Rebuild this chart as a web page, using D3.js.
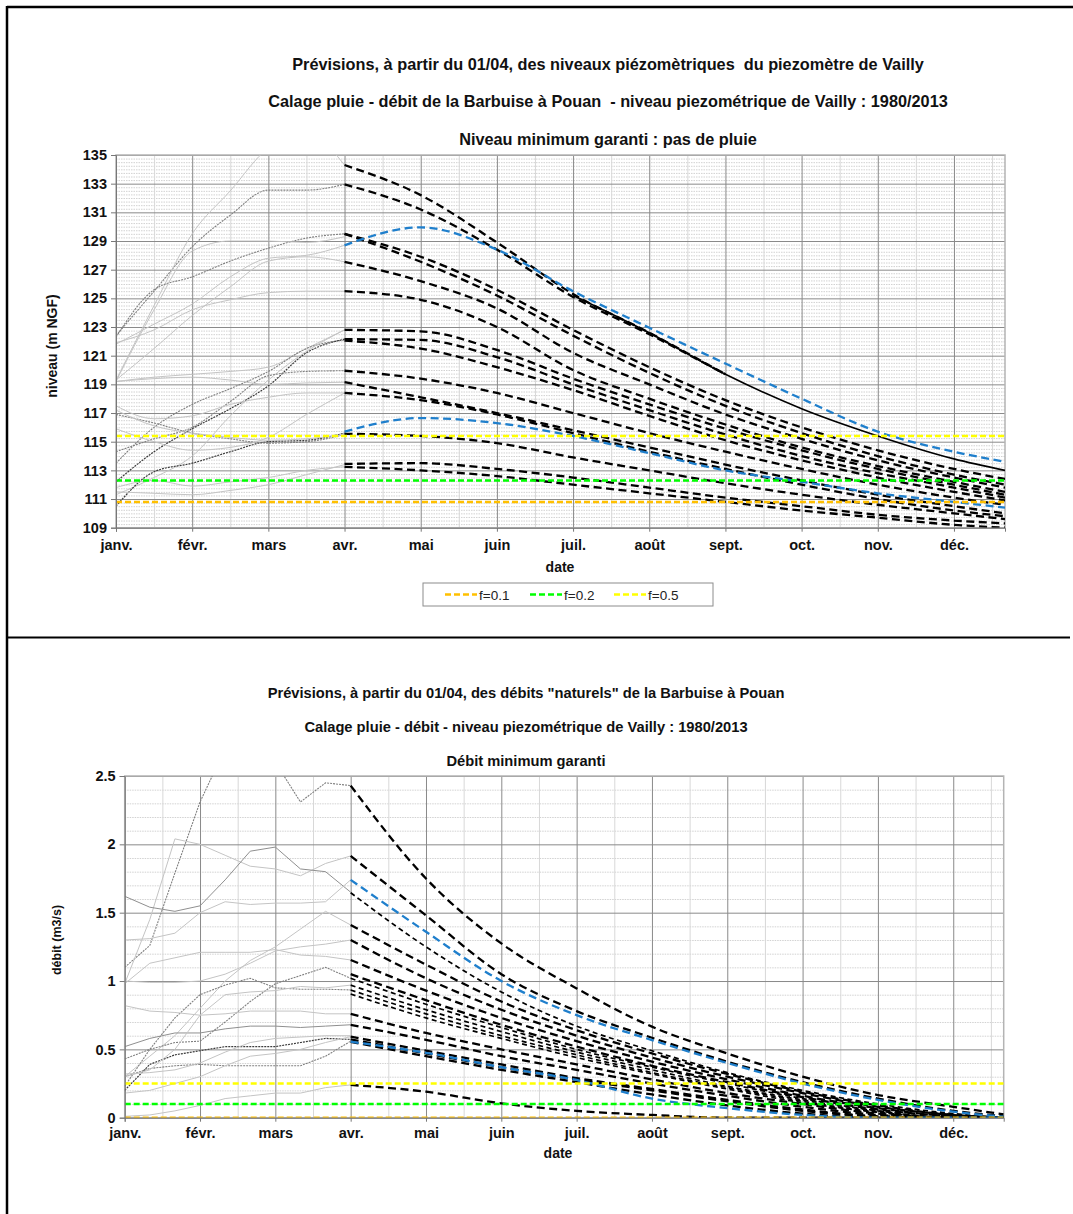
<!DOCTYPE html>
<html>
<head>
<meta charset="utf-8">
<script src="https://cdn.jsdelivr.net/npm/d3@7"></script>
<style>
  body { margin: 0; background: #fff; }
  svg { display: block; font-family: "Liberation Sans", Arial, sans-serif; }
  .title { font-size: 15px; font-weight: bold; fill: #111; white-space: pre; }
  .axis-label { font-size: 14px; font-weight: bold; fill: #111; }
  .tick text { font-size: 14.5px; font-weight: bold; fill: #111; }
  .legend-text { font-size: 13.5px; fill: #222; }
</style>
</head>
<body>
<svg id="page" width="1073" height="1214"></svg>
<script>
// ---------- data ----------
const months = ['janv.', 'févr.', 'mars', 'avr.', 'mai', 'juin', 'juil.', 'août', 'sept.', 'oct.', 'nov.', 'déc.'];

// niveau piezometrique (m NGF), x = mois depuis janvier
const niveauHistX = [0, 0.5, 1, 1.5, 2, 2.5, 3];
const niveauHist = [
  [122.4, 125.5, 128.6, 130.8, 132.55, 132.55, 132.95],
  [119.3, 124.5, 129.5, 132.5, 135.5, 136.5, 134.3],
  [122.3, 125.6, 126.5, 127.6, 128.5, 129.2, 129.5],
  [119.2, 124.2, 128.3, 129.0, 129.0, 128.9, 129.3],
  [121.8, 123.2, 124.6, 126.5, 127.8, 128.0, 128.7],
  [119.3, 121.5, 123.8, 125.8, 127.6, 127.9, 127.55],
  [121.9, 122.8, 124.2, 124.9, 125.4, 125.5, 125.5],
  [119.2, 119.5, 119.7, 119.9, 120.2, 121.5, 122.8],
  [113.5, 116.0, 117.6, 118.7, 119.9, 121.5, 122.1],
  [111.3, 112.5, 114.0, 116.8, 119.3, 121.3, 122.8],
  [112.2, 114.3, 115.9, 117.3, 118.9, 121.2, 122.15],
  [114.3, 115.2, 116.0, 117.8, 119.6, 119.9, 119.95],
  [119.2, 119.4, 119.5, 119.3, 119.0, 119.1, 119.15],
  [117.5, 116.6, 116.8, 117.6, 118.1, 118.4, 118.4],
  [110.5, 112.9, 113.5, 114.3, 115.0, 115.1, 115.6],
  [116.9, 116.3, 115.6, 115.2, 114.9, 115.0, 115.5],
  [117.2, 116.1, 115.6, 115.3, 115.1, 115.2, 115.5],
  [111.5, 111.4, 111.3, 111.6, 112.0, 112.7, 113.4],
  [111.8, 112.3, 111.9, 112.2, 112.5, 113.0, 113.25],
  [115.9, 115.0, 114.4, 114.6, 115.3, 116.9, 118.4]
];
const niveauPrevX = [3, 4, 5, 6, 7, 8, 9, 10, 11, 11.67];
const niveauPrev = [
  [134.3, 132.2, 128.9, 125.3, 122.6, 119.7],
  [132.95, 131.2, 128.4, 125.1, 122.5, 119.7],
  [129.5, 127.9, 125.6, 122.8, 120.2, 117.9, 116.0, 114.4, 113.1, 112.4],
  [129.5, 127.55, 125.2, 122.4, 119.8, 117.5, 115.6, 114.0, 112.7, 112.0],
  [127.55, 126.2, 124.3, 121.2, 119.0, 116.9, 115.2, 113.7, 112.5, 111.8],
  [125.5, 124.9, 123.0, 120.0, 118.0, 116.2, 114.6, 113.3, 112.2, 111.5],
  [122.8, 122.7, 121.4, 119.4, 117.6, 115.9, 114.4, 113.1, 112.0, 111.3],
  [122.15, 122.1, 120.9, 119.0, 117.2, 115.5, 114.0, 112.8, 111.8, 111.1],
  [122.05, 121.5, 120.2, 118.6, 116.8, 115.1, 113.7, 112.5, 111.5, 110.9],
  [119.95, 119.4, 118.4, 117.0, 115.6, 114.3, 113.1, 112.0, 111.1, 110.6],
  [119.15, 118.1, 117.0, 115.8, 114.6, 113.4, 112.3, 111.3, 110.5, 110.0],
  [118.4, 117.9, 116.9, 115.6, 114.3, 113.1, 112.0, 111.0, 110.2, 109.8],
  [115.55, 115.4, 114.9, 113.9, 113.0, 112.1, 111.3, 110.6, 110.0, 109.6],
  [113.45, 113.5, 113.1, 112.5, 111.8, 111.1, 110.5, 109.9, 109.5, 109.3],
  [113.25, 113.0, 112.6, 112.0, 111.4, 110.8, 110.2, 109.7, 109.2, 109.0]
];
const niveauPrevBleu = [
  [128.7, 129.95, 128.4, 125.5, 122.95, 120.45, 118.0, 115.7, 114.3, 113.6],
  [115.7, 116.65, 116.3, 115.4, 114.2, 113.0, 112.2, 111.4, 110.8, 110.4]
];
const niveauSolideX = [6, 7, 8, 9, 10, 11, 11.67];
const niveauSolide = [125.2, 122.6, 119.7, 117.3, 115.4, 113.8, 113.0];

const seuilNoms = ['f=0.1', 'f=0.2', 'f=0.5'];
const niveauSeuils = [110.8, 112.3, 115.4];

// debit naturel (m3/s)
const debitHistX = [0, 1 / 3, 2 / 3, 1, 4 / 3, 5 / 3, 2, 7 / 3, 8 / 3, 3];
const debitHist = [
  [1.10, 1.26, 1.79, 2.31, 2.70, 2.80, 2.60, 2.31, 2.45, 2.43],
  [0.98, 1.45, 2.04, 2.00, 1.92, 1.84, 1.82, 1.77, 1.86, 1.915],
  [1.62, 1.54, 1.51, 1.55, 1.74, 1.95, 1.98, 1.82, 1.80, 1.65],
  [1.30, 1.31, 1.35, 1.50, 1.58, 1.56, 1.57, 1.57, 1.58, 1.74],
  [0.98, 1.13, 1.17, 1.21, 1.21, 1.21, 1.23, 1.19, 1.18, 1.154],
  [0.30, 0.45, 0.60, 0.80, 1.00, 1.15, 1.25, 1.38, 1.51, 1.41],
  [1.00, 0.99, 0.99, 1.00, 1.05, 1.13, 1.22, 1.25, 1.27, 1.30],
  [0.23, 0.50, 0.73, 0.90, 0.97, 1.02, 0.95, 0.94, 0.94, 0.935],
  [0.20, 0.39, 0.46, 0.49, 0.52, 0.52, 0.52, 0.55, 0.58, 0.573],
  [0.43, 0.50, 0.55, 0.56, 0.70, 0.85, 0.98, 1.04, 1.10, 1.02],
  [0.30, 0.36, 0.38, 0.39, 0.38, 0.38, 0.38, 0.38, 0.45, 0.56],
  [0.82, 0.78, 0.77, 0.75, 0.76, 0.78, 0.78, 0.78, 0.76, 0.76],
  [0.52, 0.58, 0.62, 0.62, 0.65, 0.67, 0.67, 0.66, 0.67, 0.68],
  [0.32, 0.33, 0.35, 0.40, 0.48, 0.55, 0.58, 0.59, 0.60, 0.60],
  [0.01, 0.02, 0.05, 0.09, 0.14, 0.16, 0.18, 0.18, 0.22, 0.24],
  [0.18, 0.20, 0.25, 0.30, 0.38, 0.45, 0.47, 0.50, 0.55, 0.593],
  [0.30, 0.35, 0.50, 0.75, 0.90, 0.92, 0.93, 0.96, 0.95, 0.97]
];
const debitPrevX = [3, 4, 5, 6, 7, 8, 9, 10, 11, 11.67];
const debitPrev = [
  [2.43, 1.75, 1.275, 0.946, 0.666, 0.47, 0.30, 0.166, 0.08, 0.024],
  [1.915, 1.48, 1.05, 0.78, 0.585, 0.41, 0.26, 0.14, 0.05, 0.01],
  [1.646, 1.25, 0.92, 0.67, 0.49, 0.33, 0.20, 0.10, 0.03, 0.0],
  [1.41, 1.12, 0.85, 0.64, 0.47, 0.32, 0.19, 0.09, 0.02, 0.0],
  [1.30, 1.02, 0.79, 0.60, 0.44, 0.30, 0.18, 0.08, 0.02, 0.0],
  [1.154, 0.93, 0.73, 0.56, 0.41, 0.28, 0.16, 0.07, 0.01, 0.0],
  [1.05, 0.86, 0.68, 0.52, 0.38, 0.26, 0.15, 0.06, 0.01, 0.0],
  [1.02, 0.83, 0.66, 0.50, 0.37, 0.25, 0.14, 0.05, 0.0, 0.0],
  [0.97, 0.79, 0.63, 0.48, 0.35, 0.23, 0.13, 0.05, 0.0, 0.0],
  [0.934, 0.76, 0.60, 0.46, 0.33, 0.22, 0.12, 0.04, 0.0, 0.0],
  [0.905, 0.73, 0.58, 0.44, 0.32, 0.21, 0.11, 0.04, 0.0, 0.0],
  [0.76, 0.62, 0.50, 0.39, 0.28, 0.18, 0.10, 0.03, 0.0, 0.0],
  [0.68, 0.57, 0.45, 0.35, 0.25, 0.16, 0.08, 0.02, 0.0, 0.0],
  [0.593, 0.49, 0.39, 0.29, 0.21, 0.13, 0.06, 0.01, 0.0, 0.0],
  [0.573, 0.47, 0.37, 0.28, 0.20, 0.12, 0.05, 0.01, 0.0, 0.0],
  [0.555, 0.45, 0.35, 0.26, 0.17, 0.09, 0.03, 0.0, 0.0, 0.0],
  [0.24, 0.19, 0.105, 0.05, 0.02, 0.0, 0.0, 0.0, 0.0, 0.0]
];
const debitPrevBleu = [
  [1.74, 1.36, 1.0, 0.75, 0.568, 0.40, 0.25, 0.13, 0.044, 0.007],
  [0.556, 0.475, 0.37, 0.276, 0.14, 0.07, 0.02, 0.0, 0.0, 0.0]
];
const debitSeuils = [0, 0.1, 0.25];

// ---------- styles ----------
const seuilCouleurs = ['#ffc000', '#00ff00', '#ffff00'];
const bleu = '#1f7fcc';
const histStyles = {
  light: { stroke: '#c4c4c4', width: 1, dash: null },
  mid: { stroke: '#8f8f8f', width: 1, dash: null },
  dotMid: { stroke: '#808080', width: 1.1, dash: '2,1' },
  dotDark: { stroke: '#3c3c3c', width: 1.2, dash: '2,1' }
};
const niveauHistStyle = ['dotMid', 'light', 'dotMid', 'light', 'light', 'light', 'light', 'light', 'dotMid', 'light',
  'dotDark', 'dotMid', 'light', 'light', 'dotDark', 'dotMid', 'light', 'light', 'light', 'light'];
const debitHistStyle = ['dotMid', 'light', 'mid', 'light', 'light', 'light', 'light', 'dotMid', 'dotDark', 'dotMid',
  'dotMid', 'light', 'mid', 'light', 'light', 'light', 'light'];
const debitPrevStyle = ['big', 'big', 'thin', 'big', 'big', 'big', 'big', 'thin', 'thin', 'thin', 'thin', 'big', 'big', 'big', 'big', 'big', 'big'];

const svg = d3.select('#page');

// panel frames
svg.append('line').attr('x1', 7).attr('x2', 1073).attr('y1', 7).attr('y2', 7)
  .attr('stroke', '#000').attr('stroke-width', 2.5);
svg.append('line').attr('x1', 7).attr('x2', 7).attr('y1', 6).attr('y2', 1214)
  .attr('stroke', '#000').attr('stroke-width', 2.5);
svg.append('line').attr('x1', 7).attr('x2', 1070).attr('y1', 637.5).attr('y2', 637.5)
  .attr('stroke', '#000').attr('stroke-width', 2);

function drawChart(cfg) {
  const x = d3.scaleLinear().domain([0, 11.67]).range([cfg.left, cfg.right]);
  const y = d3.scaleLinear().domain(cfg.yDomain).range([cfg.bottom, cfg.top]);
  const width = cfg.right - cfg.left;
  const height = cfg.bottom - cfg.top;
  const g = svg.append('g');

  const clipId = 'clip-' + cfg.id;
  svg.append('clipPath').attr('id', clipId)
    .append('rect').attr('x', cfg.left).attr('y', cfg.top).attr('width', width).attr('height', height);

  // minor grid
  g.append('g').attr('transform', 'translate(' + cfg.left + ',0)')
    .call(d3.axisLeft(y).tickValues(cfg.minorY).tickSize(-width).tickFormat(''))
    .call(a => a.select('.domain').remove())
    .selectAll('line').attr('stroke', '#d2d2d2').attr('stroke-dasharray', '1.5,1');
  g.append('g').attr('transform', 'translate(0,' + cfg.bottom + ')')
    .call(d3.axisBottom(x).tickValues(d3.range(0.5, 12, 1)).tickSize(-height).tickFormat(''))
    .call(a => a.select('.domain').remove())
    .selectAll('line').attr('stroke', '#d8d8d8');

  // major grid
  g.append('g').attr('transform', 'translate(' + cfg.left + ',0)')
    .call(d3.axisLeft(y).tickValues(cfg.majorY).tickSize(-width).tickFormat(''))
    .call(a => a.select('.domain').remove())
    .selectAll('line').attr('stroke', '#8a8a8a');
  g.append('g').attr('transform', 'translate(0,' + cfg.bottom + ')')
    .call(d3.axisBottom(x).tickValues(d3.range(0, 12)).tickSize(-height).tickFormat(''))
    .call(a => a.select('.domain').remove())
    .selectAll('line').attr('stroke', '#8a8a8a');

  // plot border
  g.append('rect').attr('x', cfg.left).attr('y', cfg.top).attr('width', width).attr('height', height)
    .attr('fill', 'none').attr('stroke', '#b4b4b4').attr('stroke-width', 1.5);

  const plot = g.append('g').attr('clip-path', 'url(#' + clipId + ')');

  function addLine(xs, ys, stroke, sw, dash, curve) {
    const pts = ys.map((v, i) => [xs[i], v]);
    const line = d3.line().x(d => x(d[0])).y(d => y(d[1])).curve(curve || d3.curveLinear);
    plot.append('path').datum(pts)
      .attr('d', line)
      .attr('fill', 'none')
      .attr('stroke', stroke)
      .attr('stroke-width', sw)
      .attr('stroke-dasharray', dash);
  }

  // historical series
  cfg.hist.forEach((ys, i) => {
    const st = histStyles[cfg.histStyle[i]];
    addLine(cfg.histX, ys, st.stroke, st.width, st.dash, cfg.histCurve);
  });

  // solid series
  if (cfg.solid) addLine(cfg.solidX, cfg.solid, '#000', 1.6, null, d3.curveMonotoneX);

  // forecasts
  cfg.prev.forEach((ys, i) => {
    const big = !cfg.prevStyle || cfg.prevStyle[i] === 'big';
    addLine(cfg.prevX, ys, '#000', big ? 2.3 : 1.7, big ? '8,4.5' : '5,3.5', d3.curveMonotoneX);
  });
  cfg.prevBleu.forEach(ys => {
    addLine(cfg.prevX, ys, bleu, 2.3, '8,4.5', d3.curveMonotoneX);
  });

  // thresholds
  cfg.seuils.forEach((v, i) => {
    addLine([0, 11.67], [v, v], seuilCouleurs[i], 2.5, '6,3', d3.curveLinear);
  });

  // axes with labels
  const yAxis = g.append('g').attr('transform', 'translate(' + cfg.left + ',0)')
    .call(d3.axisLeft(y).tickValues(cfg.majorY).tickSize(5).tickPadding(4).tickFormat(d => String(d)));
  yAxis.select('.domain').attr('stroke', '#777');
  yAxis.selectAll('.tick line').attr('stroke', '#777');

  const xAxis = g.append('g').attr('transform', 'translate(0,' + cfg.bottom + ')')
    .call(d3.axisBottom(x).tickValues(d3.range(0, 12)).tickSize(4).tickPadding(cfg.xPad).tickFormat(i => months[i]));
  xAxis.select('.domain').attr('stroke', '#777');
  xAxis.selectAll('.tick line').attr('stroke', '#777');

  // titles
  cfg.titles.forEach((t, i) => {
    svg.append('text').attr('class', 'title')
      .attr('x', cfg.titleX).attr('y', cfg.titleY[i])
      .attr('text-anchor', 'middle')
      .style('font-size', cfg.titleSize + 'px')
      .text(t);
  });

  svg.append('text').attr('class', 'axis-label')
    .attr('transform', 'translate(' + cfg.yLabelPos[0] + ',' + cfg.yLabelPos[1] + ') rotate(-90)')
    .attr('text-anchor', 'middle')
    .style('font-size', cfg.yLabelSize + 'px')
    .text(cfg.yLabel);

  svg.append('text').attr('class', 'axis-label')
    .attr('x', cfg.dateX).attr('y', cfg.dateY)
    .attr('text-anchor', 'middle')
    .text('date');
}

drawChart({
  id: 'niveau',
  left: 116, right: 1005, top: 155, bottom: 527.7,
  yDomain: [109, 135],
  majorY: d3.range(109, 136, 2),
  minorY: d3.range(109, 135.01, 0.25).filter(v => (v - 109) % 2 !== 0),
  histX: niveauHistX, hist: niveauHist, histStyle: niveauHistStyle, histCurve: d3.curveMonotoneX,
  solidX: niveauSolideX, solid: niveauSolide,
  prevX: niveauPrevX, prev: niveauPrev, prevBleu: niveauPrevBleu,
  seuils: niveauSeuils,
  xPad: 8,
  titles: [
    'Prévisions, à partir du 01/04, des niveaux piézomètriques  du piezomètre de Vailly',
    'Calage pluie - débit de la Barbuise à Pouan  - niveau piezométrique de Vailly : 1980/2013',
    'Niveau minimum garanti : pas de pluie'
  ],
  titleX: 608, titleY: [70, 107, 145], titleSize: 16.3,
  yLabel: 'niveau (m NGF)', yLabelPos: [57, 346], yLabelSize: 14,
  dateX: 560, dateY: 572
});

drawChart({
  id: 'debit',
  left: 124.7, right: 1003.7, top: 776, bottom: 1117.7,
  yDomain: [0, 2.5],
  majorY: [0, 0.5, 1, 1.5, 2, 2.5],
  minorY: d3.range(1, 25).filter(v => v % 5 !== 0).map(v => v / 10),
  histX: debitHistX, hist: debitHist, histStyle: debitHistStyle, histCurve: d3.curveLinear,
  prevX: debitPrevX, prev: debitPrev, prevBleu: debitPrevBleu, prevStyle: debitPrevStyle,
  seuils: debitSeuils,
  xPad: 6,
  titles: [
    'Prévisions, à partir du 01/04, des débits "naturels" de la Barbuise à Pouan',
    'Calage pluie - débit - niveau piezométrique de Vailly : 1980/2013',
    'Débit minimum garanti'
  ],
  titleX: 526, titleY: [698, 732, 766], titleSize: 14.7,
  yLabelPos: [61, 940], yLabel: 'débit (m3/s)', yLabelSize: 12.5,
  dateX: 558, dateY: 1158
});

// legend
const legend = svg.append('g');
legend.append('rect').attr('x', 423).attr('y', 583).attr('width', 290).attr('height', 23)
  .attr('fill', '#fff').attr('stroke', '#8c8c8c');
const legendX = [445, 530, 614];
seuilNoms.forEach((name, i) => {
  legend.append('line')
    .attr('x1', legendX[i]).attr('x2', legendX[i] + 32)
    .attr('y1', 594.5).attr('y2', 594.5)
    .attr('stroke', seuilCouleurs[i]).attr('stroke-width', 2.5).attr('stroke-dasharray', '6,3');
  legend.append('text').attr('class', 'legend-text')
    .attr('x', legendX[i] + 34).attr('y', 599.5)
    .text(name);
});
</script>
</body>
</html>
